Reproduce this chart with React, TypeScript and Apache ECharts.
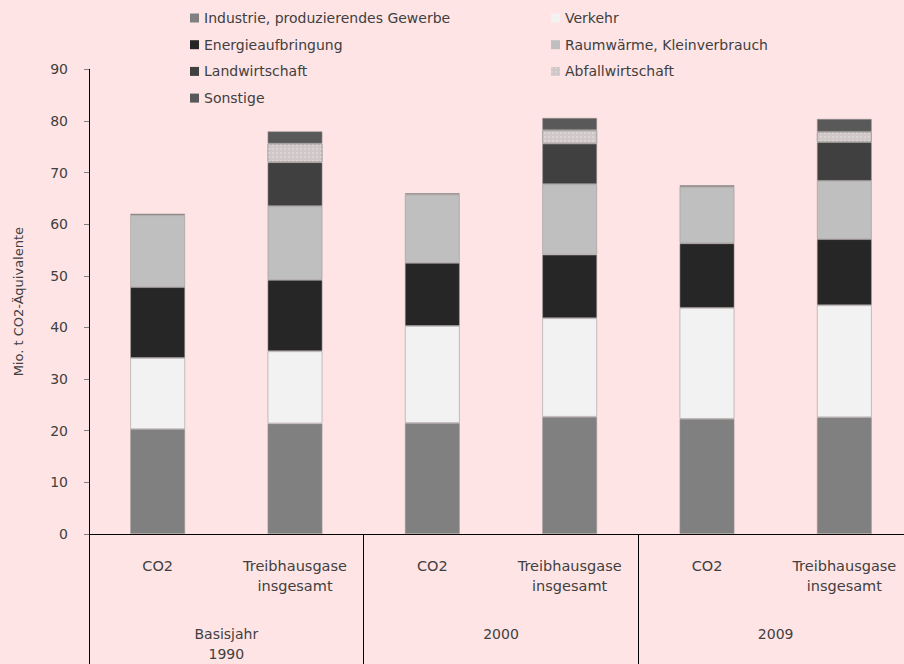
import React, { useEffect, useRef } from "react";
import * as echarts from "echarts";

const categories = ["CO2", "Treibhausgase\ninsgesamt", "CO2", "Treibhausgase\ninsgesamt", "CO2", "Treibhausgase\ninsgesamt"];
const groups = ["Basisjahr\n1990", "2000", "2009"];
const yTicks = { min: 0, max: 90, interval: 10 };

const industrie = [20.3, 21.4, 21.5, 22.7, 22.3, 22.6];
const verkehr = [13.8, 14.0, 18.8, 19.1, 21.5, 21.7];
const energie = [13.7, 13.8, 12.2, 12.3, 12.5, 12.8];
const raumwaerme = [13.95, 14.3, 13.2, 13.65, 10.9, 11.3];
const landwirtschaft = [null, 8.5, null, 7.85, null, 7.5];
const abfall = [null, 3.6, null, 2.6, null, 2.0];
const sonstige = [0.3, 2.4, 0.3, 2.4, 0.35, 2.5];

const seriesDefs = [
  { name: "Industrie, produzierendes Gewerbe", data: industrie, color: "#808080" },
  { name: "Verkehr", data: verkehr, color: "#F2F2F2" },
  { name: "Energieaufbringung", data: energie, color: "#262626" },
  { name: "Raumwärme, Kleinverbrauch", data: raumwaerme, color: "#BFBFBF" },
  { name: "Landwirtschaft", data: landwirtschaft, color: "#404040" },
  { name: "Abfallwirtschaft", data: abfall, color: "#D0C8C8", decal: true },
  { name: "Sonstige", data: sonstige, color: "#595959" },
];

const FONT = "DejaVu Sans";
const TXT = "#404040";

export default function App() {
  const ref = useRef<HTMLDivElement>(null);
  useEffect(() => {
    if (!ref.current) return;
    const chart = echarts.init(ref.current, undefined, { renderer: "svg" });
    const legendBase = {
      orient: "vertical",
      top: 11,
      padding: 0,
      itemWidth: 9,
      itemHeight: 9,
      itemGap: 12.7,
      icon: "rect",
      itemStyle: { borderWidth: 0 },
      textStyle: { fontFamily: FONT, fontSize: 14, color: TXT, lineHeight: 14 },
    };
    chart.setOption({
      animation: false,
      backgroundColor: "#FFE4E5",
      textStyle: { fontFamily: FONT },
      legend: [
        {
          ...legendBase,
          left: 190,
          data: [seriesDefs[0].name, seriesDefs[2].name, seriesDefs[4].name, seriesDefs[6].name],
        },
        {
          ...legendBase,
          left: 551,
          data: [seriesDefs[1].name, seriesDefs[3].name, seriesDefs[5].name],
        },
      ],
      grid: { left: 89, top: 69.3, bottom: 129.5, right: 0 },
      xAxis: [
        {
          type: "category",
          data: categories,
          position: "bottom",
          axisLine: { show: true, lineStyle: { color: "#000", width: 1 } },
          axisTick: { show: false },
          axisLabel: {
            margin: 22,
            fontFamily: FONT,
            fontSize: 14.5,
            color: TXT,
            lineHeight: 20,
            interval: 0,
          },
        },
        {
          type: "category",
          data: groups,
          position: "bottom",
          offset: 0,
          axisLine: { show: false },
          axisTick: { show: true, length: 140, lineStyle: { color: "#000", width: 1 } },
          axisLabel: {
            margin: 90,
            fontFamily: FONT,
            fontSize: 14,
            color: TXT,
            lineHeight: 20,
            interval: 0,
          },
        },
      ],
      yAxis: {
        type: "value",
        min: yTicks.min,
        max: yTicks.max,
        interval: yTicks.interval,
        name: "Mio. t CO2-Äquivalente",
        nameLocation: "middle",
        nameGap: 64,
        nameTextStyle: { fontFamily: FONT, fontSize: 13, color: TXT },
        axisLine: { show: true, lineStyle: { color: "#000", width: 1 } },
        axisTick: { show: true, length: 5, lineStyle: { color: "#808080" } },
        splitLine: { show: false },
        axisLabel: { margin: 21, fontFamily: FONT, fontSize: 14, color: TXT },
      },
      series: seriesDefs.map((s) => ({
        name: s.name,
        type: "bar",
        stack: "total",
        xAxisIndex: 0,
        barWidth: "40%",
        data: s.data,
        itemStyle: {
          color: s.color,
          borderColor: "rgba(150,150,150,0.7)",
          borderWidth: 0.8,
          decal: s.decal
            ? {
                symbol: "rect",
                symbolSize: 1,
                dashArrayX: [2, 2],
                dashArrayY: [2, 2],
                color: "rgba(225,215,215,0.7)",
              }
            : undefined,
        },
      })),
    });
    return () => chart.dispose();
  }, []);
  return (
    <div style={{ position: "fixed", left: 0, top: 0, width: 904, height: 664, overflow: "hidden" }}>
      <div ref={ref} style={{ position: "absolute", left: 0, top: 0, width: 913, height: 664 }} />
    </div>
  );
}
